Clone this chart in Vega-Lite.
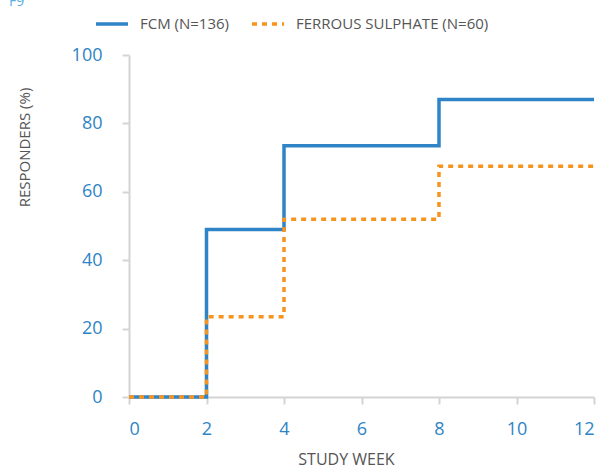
{
  "$schema": "https://vega.github.io/schema/vega-lite/v6.json",
  "width": 465,
  "height": 342,
  "autosize": {"type": "none"},
  "padding": {"left": 129, "top": 55, "right": 20, "bottom": 71},
  "title": {"text": "F9", "anchor": "start", "frame": "group", "fontSize": 14, "fontWeight": "normal", "color": "#5aaee0", "dx": -120, "offset": -14, "baseline": "alphabetic"},
  "config": {
    "font": "Open Sans",
    "view": {"stroke": null},
    "axis": {
      "grid": false,
      "domainColor": "#d4d4d4",
      "domainWidth": 2,
      "tickColor": "#d4d4d4",
      "tickWidth": 2,
      "tickSize": 7,
      "labelColor": "#2e84c6",
      "labelFontSize": 18,
      "titleColor": "#555555",
      "titleFontSize": 15,
      "titleFontWeight": "normal"
    },
    "legend": {
      "orient": "none",
      "legendX": -35,
      "legendY": -49,
      "direction": "horizontal",
      "symbolType": "stroke",
      "symbolSize": 1024,
      "symbolStrokeWidth": 3.5,
      "labelFontSize": 15,
      "labelColor": "#555555",
      "labelLimit": 400,
      "columnPadding": 15,
      "labelOffset": 10,
      "padding": 0
    }
  },
  "data": {
    "values": [
      {"series": "FCM (N=136)", "week": 0, "pct": 0},
      {"series": "FCM (N=136)", "week": 2, "pct": 49},
      {"series": "FCM (N=136)", "week": 4, "pct": 73.5},
      {"series": "FCM (N=136)", "week": 8, "pct": 87},
      {"series": "FCM (N=136)", "week": 12, "pct": 87},
      {"series": "FERROUS SULPHATE (N=60)", "week": 0, "pct": 0},
      {"series": "FERROUS SULPHATE (N=60)", "week": 2, "pct": 23.5},
      {"series": "FERROUS SULPHATE (N=60)", "week": 4, "pct": 52},
      {"series": "FERROUS SULPHATE (N=60)", "week": 8, "pct": 67.5},
      {"series": "FERROUS SULPHATE (N=60)", "week": 12, "pct": 67.5}
    ]
  },
  "mark": {"type": "line", "interpolate": "step-after", "strokeWidth": 3.5, "strokeCap": "butt"},
  "encoding": {
    "x": {
      "field": "week", "type": "quantitative",
      "scale": {"domain": [0, 12], "nice": false},
      "axis": {"values": [0, 2, 4, 6, 8, 10, 12], "title": "STUDY WEEK", "titleFontSize": 16, "labelPadding": 16, "titleX": 217, "titleY": 62, "titleBaseline": "middle", "titleAlign": "center"}
    },
    "y": {
      "field": "pct", "type": "quantitative",
      "scale": {"domain": [0, 100], "nice": false},
      "axis": {"values": [0, 20, 40, 60, 80, 100], "title": "RESPONDERS (%)", "labelPadding": 20, "titleX": -105, "titleY": 92, "titleBaseline": "middle", "titleAlign": "center", "titleAngle": -90}
    },
    "color": {
      "field": "series", "type": "nominal",
      "scale": {"domain": ["FCM (N=136)", "FERROUS SULPHATE (N=60)"], "range": ["#2e84c6", "#f7941d"]},
      "legend": {"title": null}
    },
    "strokeDash": {
      "field": "series", "type": "nominal",
      "scale": {"domain": ["FCM (N=136)", "FERROUS SULPHATE (N=60)"], "range": [[1, 0], [5, 5]]},
      "legend": {"title": null}
    }
  }
}
